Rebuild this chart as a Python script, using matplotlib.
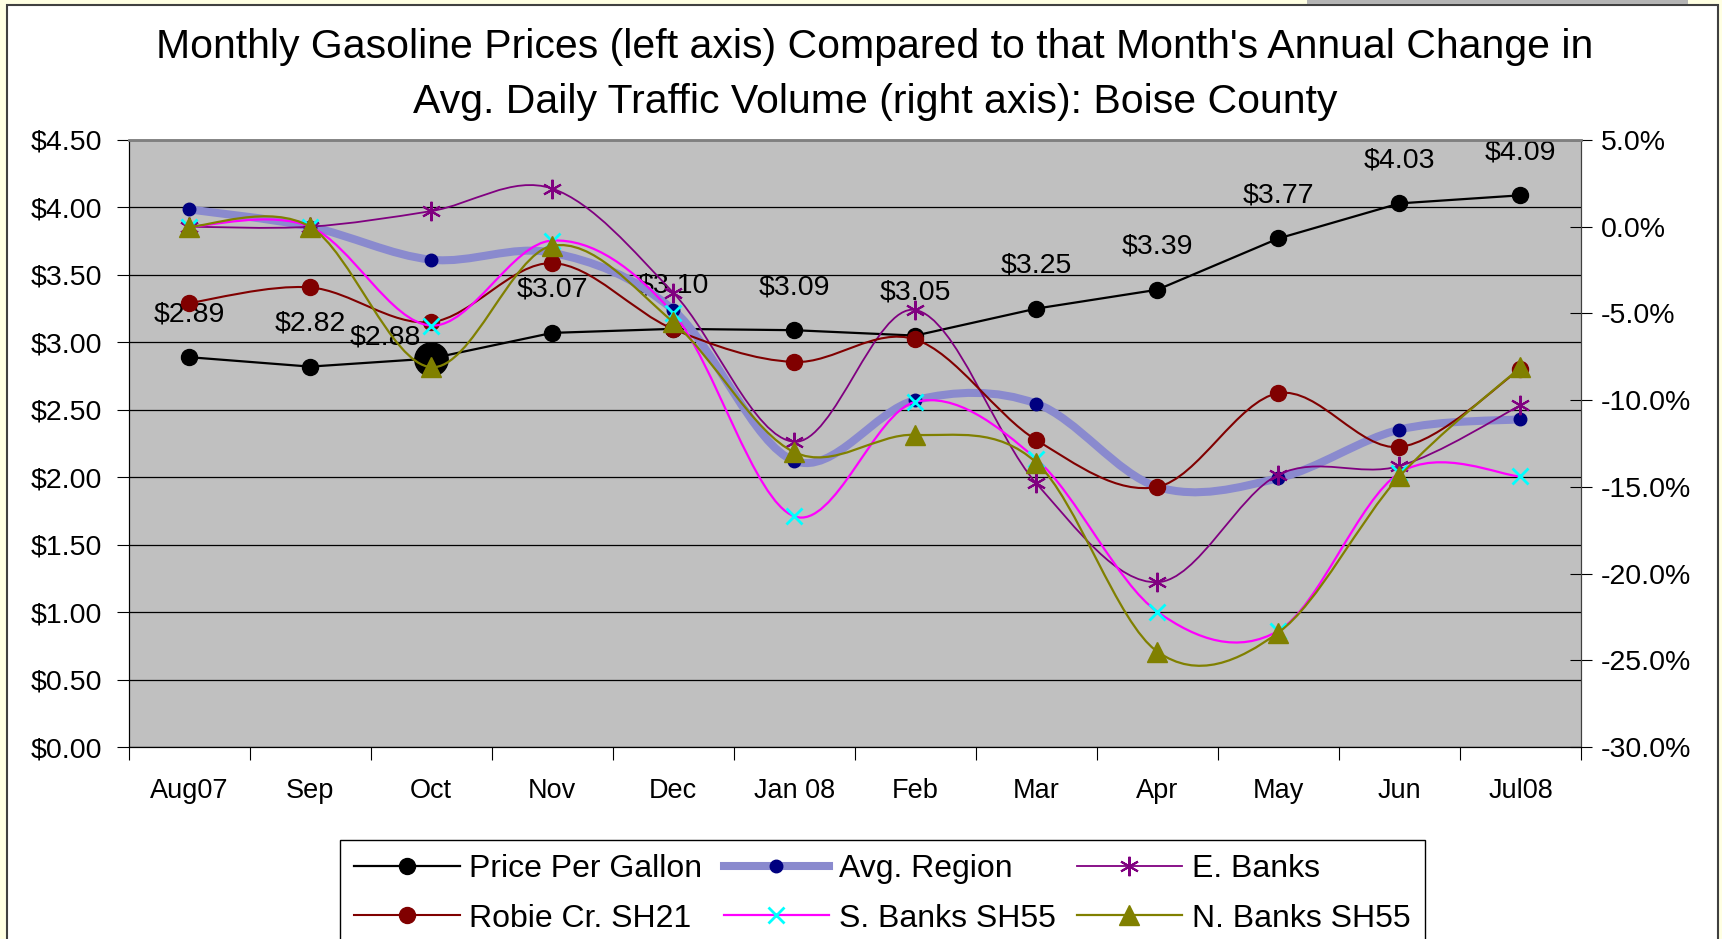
import numpy as np
import matplotlib
matplotlib.use("Agg")
import matplotlib.pyplot as plt
from matplotlib.path import Path
from matplotlib.patches import PathPatch, Rectangle
from matplotlib.lines import Line2D
from matplotlib.ticker import FuncFormatter, MultipleLocator

plt.rcParams['font.family'] = ['Liberation Sans', 'DejaVu Sans']

# Données
months = ["Aug07", "Sep", "Oct", "Nov", "Dec", "Jan 08", "Feb", "Mar", "Apr", "May", "Jun", "Jul08"]
price = [2.89, 2.82, 2.88, 3.07, 3.10, 3.09, 3.05, 3.25, 3.39, 3.77, 4.03, 4.09]
avg_region = [1.0, 0.0, -1.9, -1.5, -4.8, -13.5, -10.0, -10.2, -15.0, -14.5, -11.7, -11.1]
e_banks = [0.0, 0.0, 0.9, 2.2, -3.8, -12.4, -4.8, -14.8, -20.5, -14.3, -13.8, -10.3]
robie = [-4.4, -3.5, -5.5, -2.1, -5.9, -7.8, -6.5, -12.3, -15.0, -9.6, -12.7, -8.2]
s_banks = [0.0, 0.0, -5.7, -0.8, -5.0, -16.7, -10.1, -13.4, -22.2, -23.3, -14.2, -14.4]
n_banks = [0.0, 0.0, -8.1, -1.1, -5.5, -13.0, -12.0, -13.6, -24.5, -23.4, -14.4, -8.1]

W, H = 1722, 939


def smooth_path(xs, ys):
    """Courbe lissée (Bezier façon Excel) passant par les points."""
    n = len(xs)
    verts = [(xs[0], ys[0])]
    codes = [Path.MOVETO]
    for i in range(n - 1):
        i0, i3 = max(i - 1, 0), min(i + 2, n - 1)
        c1 = (xs[i] + (xs[i + 1] - xs[i0]) / 6, ys[i] + (ys[i + 1] - ys[i0]) / 6)
        c2 = (xs[i + 1] - (xs[i3] - xs[i]) / 6, ys[i + 1] - (ys[i3] - ys[i]) / 6)
        verts += [c1, c2, (xs[i + 1], ys[i + 1])]
        codes += [Path.CURVE4] * 3
    return Path(verts, codes)


fig = plt.figure(figsize=(W / 100, H / 100), dpi=100, facecolor='#FFFFE2')
# cadre blanc du graphique
fig.add_artist(Rectangle((7 / W, -0.05), (1718 - 7) / W, 1.05 - 5 / H, transform=fig.transFigure,
                         facecolor='white', edgecolor='#404040', linewidth=1.5, zorder=0))
fig.add_artist(Rectangle((1307 / W, 1 - 4 / H), (1688 - 1307) / W, 4 / H, transform=fig.transFigure,
                         facecolor='#B4B4B4', edgecolor='none', zorder=0))

ax = fig.add_axes([128.5 / W, 1 - 747 / H, (1581 - 128.5) / W, (747 - 140) / H])
ax.set_facecolor('#C0C0C0')
ax2 = ax.twinx()

x = np.arange(len(months))

# Prix (axe gauche)
ax.plot(x, price, color='black', linewidth=1.6, marker='o', markersize=11.5, zorder=3)
ax.plot([x[2]], [price[2]], linestyle='none', marker='o', markersize=24, color='black', zorder=3)
for i, p in enumerate(price):
    off = (-33, 15) if i == 2 else (0, 31)
    ax.annotate(f"${p:.2f}", (x[i], p), xytext=off, textcoords='offset points',
                ha='center', va='center', fontsize=20.5, zorder=4)

# Séries (axe droit)
series = [
    ("Avg. Region", avg_region, dict(color='#8A8ACE', lw=5.8), dict(marker='o', ms=9, mfc='#000080', mec='#000080')),
    ("E. Banks", e_banks, dict(color='#800080', lw=1.3), dict(marker=(6, 2, 0), ms=14, mec='#800080', mew=1.5)),
    ("Robie Cr. SH21", robie, dict(color='#800000', lw=1.5), dict(marker='o', ms=11.5, mfc='#800000', mec='#800000')),
    ("S. Banks SH55", s_banks, dict(color='#FF00FF', lw=1.6), dict(marker='x', ms=12, mec='#00FFFF', mew=2)),
    ("N. Banks SH55", n_banks, dict(color='#808000', lw=1.6), dict(marker='^', ms=14, mfc='#808000', mec='#808000')),
]
handles = {}
for k, (name, vals, lstyle, mstyle) in enumerate(series):
    z = 2 + k * 0.1
    ax2.add_patch(PathPatch(smooth_path(x, vals), fill=False, edgecolor=lstyle['color'],
                            linewidth=lstyle['lw'], zorder=z))
    ax2.plot(x, vals, linestyle='none', zorder=z + 0.05, **mstyle)
    handles[name] = Line2D([], [], color=lstyle['color'], linewidth=lstyle['lw'], **mstyle)
handles["Price Per Gallon"] = Line2D([], [], color='black', linewidth=1.6, marker='o', markersize=11.5)

# Axes
ax.set_xlim(-0.5, len(months) - 0.5)
ax.set_ylim(0, 4.5)
ax.yaxis.set_major_locator(MultipleLocator(0.5))
ax.yaxis.set_major_formatter(FuncFormatter(lambda v, _: f"${v:.2f}"))
ax.grid(axis='y', color='black', linewidth=0.9)
ax.set_axisbelow(True)
ax.set_xticks(np.arange(-0.5, len(months), 1.0))
ax.set_xticklabels([])
ax.set_xticks(x, minor=True)
ax.set_xticklabels(months, minor=True, fontsize=19.5)
ax.tick_params(axis='x', which='major', length=9, direction='out', color='black')
ax.tick_params(axis='x', which='minor', length=0, pad=22)
ax.tick_params(axis='y', labelsize=20.5, length=9, direction='out', pad=10)

ax2.set_ylim(-30, 5)
ax2.yaxis.set_major_locator(MultipleLocator(5))
ax2.yaxis.set_major_formatter(FuncFormatter(lambda v, _: f"{v:.1f}%"))
ax2.tick_params(axis='y', labelsize=20.5, length=16, direction='inout', pad=6)

for a in (ax, ax2):
    a.spines['left'].set_color('black')
    a.spines['bottom'].set_color('black')
    a.spines['top'].set_color('#808080')
    a.spines['top'].set_linewidth(1.8)
    a.spines['right'].set_color('#404040')

# Titre
fig.text(874.7 / W, 1 - 58 / H, "Monthly Gasoline Prices (left axis) Compared to that Month's Annual Change in",
         ha='center', va='baseline', fontsize=29.5)
fig.text(874.7 / W, 1 - 113 / H, "Avg. Daily Traffic Volume (right axis): Boise County",
         ha='center', va='baseline', fontsize=29.5)

# Légende (3 colonnes, remplie par colonne)
order = ["Price Per Gallon", "Robie Cr. SH21", "Avg. Region", "S. Banks SH55", "E. Banks", "N. Banks SH55"]
leg = fig.legend([handles[n] for n in order], order, loc='upper left',
                 bbox_to_anchor=(340 / W, 1 - 840 / H), ncol=3, fontsize=23,
                 frameon=True, fancybox=False, edgecolor='black', framealpha=1,
                 handlelength=3.3, handletextpad=0.3, columnspacing=0.66,
                 borderpad=0.45, labelspacing=0.6, borderaxespad=0)
leg.get_frame().set_linewidth(1)

fig.savefig("out.png", dpi=100, facecolor=fig.get_facecolor())
